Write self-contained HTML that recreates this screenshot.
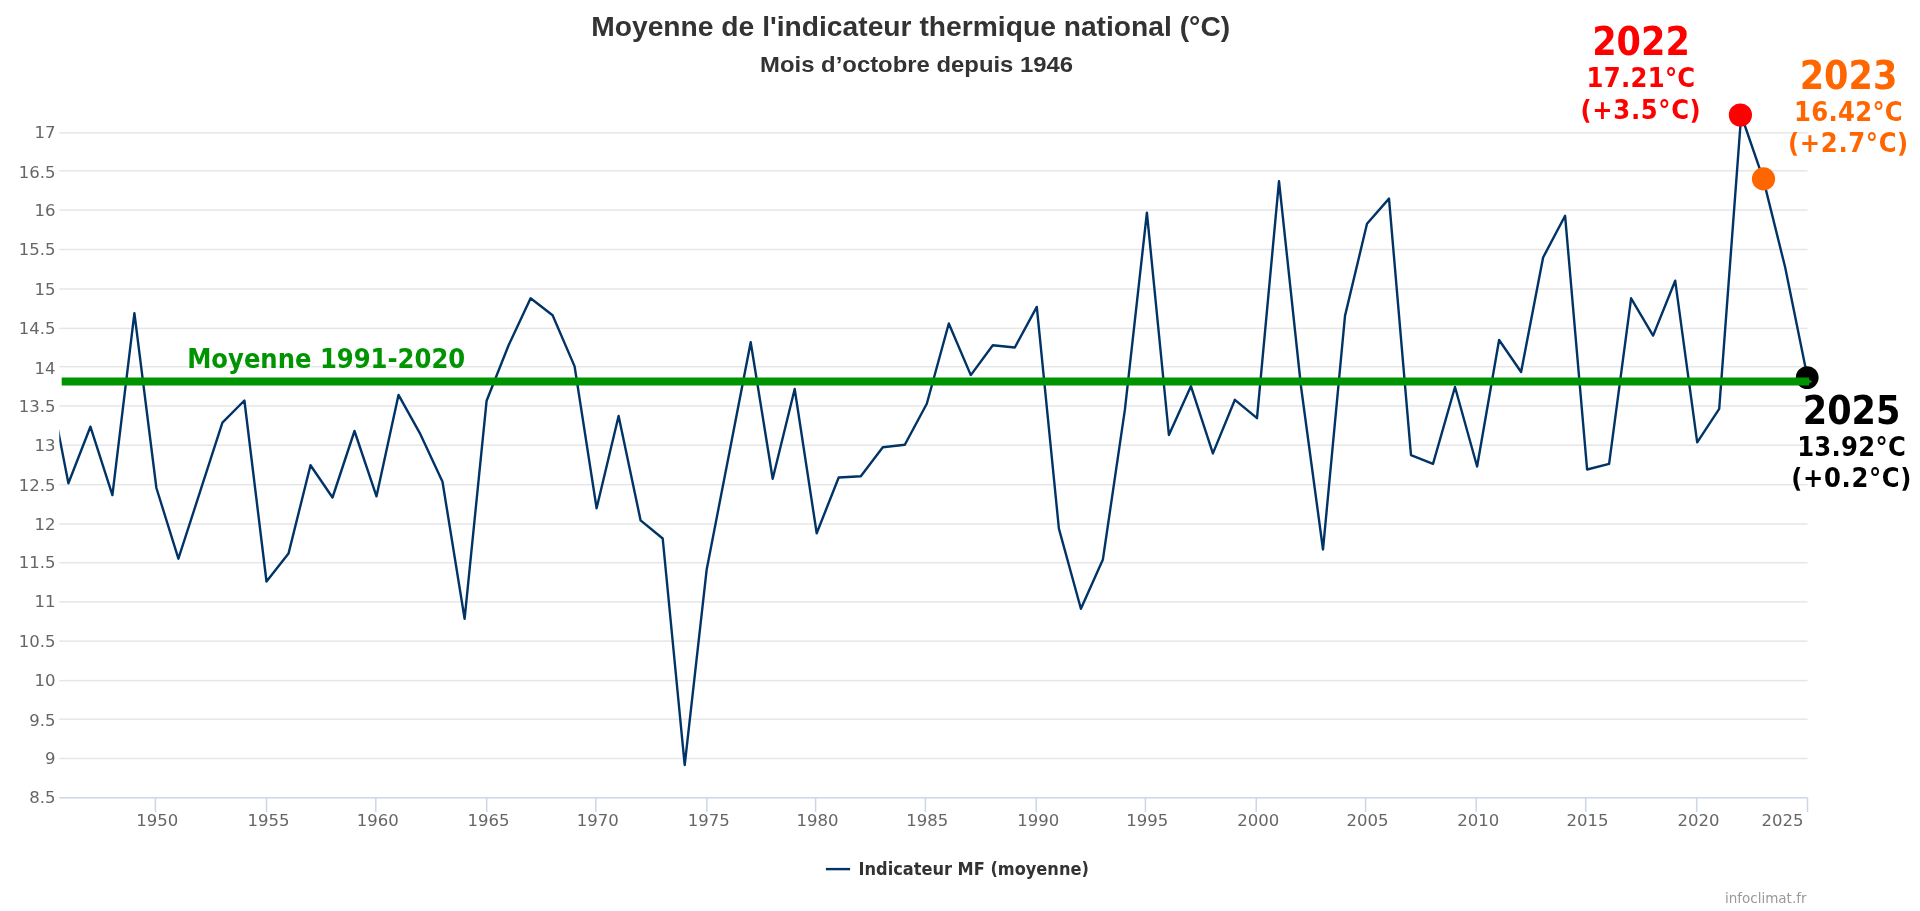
<!DOCTYPE html>
<html><head><meta charset="utf-8"><title>Moyenne de l'indicateur thermique national</title>
<style>
html,body{margin:0;padding:0;background:#fff;width:1920px;height:911px;overflow:hidden}
svg{display:block;will-change:transform}
.ax{font-family:"DejaVu Sans","Liberation Sans",sans-serif;font-size:16.5px;fill:#666}
.ann{font-family:"DejaVu Sans Condensed","DejaVu Sans","Liberation Sans",sans-serif;font-stretch:condensed;font-weight:bold}
.tt{font-family:"Liberation Sans",Arial,sans-serif;font-weight:bold;fill:#333}
</style></head>
<body>
<svg width="1920" height="911" viewBox="0 0 1920 911">
<rect width="1920" height="911" fill="#ffffff"/>
<defs><clipPath id="pc"><rect x="59.3" y="0" width="1760" height="911"/></clipPath></defs>
<g><rect x="59.3" y="797.05" width="1748.2" height="1.5" fill="#ccd6eb"/><rect x="59.3" y="757.75" width="1748.2" height="1.5" fill="#e6e6e6"/><rect x="59.3" y="718.45" width="1748.2" height="1.5" fill="#e6e6e6"/><rect x="59.3" y="679.85" width="1748.2" height="1.5" fill="#e6e6e6"/><rect x="59.3" y="640.35" width="1748.2" height="1.5" fill="#e6e6e6"/><rect x="59.3" y="601.15" width="1748.2" height="1.5" fill="#e6e6e6"/><rect x="59.3" y="561.95" width="1748.2" height="1.5" fill="#e6e6e6"/><rect x="59.3" y="523.25" width="1748.2" height="1.5" fill="#e6e6e6"/><rect x="59.3" y="483.95" width="1748.2" height="1.5" fill="#e6e6e6"/><rect x="59.3" y="444.45" width="1748.2" height="1.5" fill="#e6e6e6"/><rect x="59.3" y="405.15" width="1748.2" height="1.5" fill="#e6e6e6"/><rect x="59.3" y="365.95" width="1748.2" height="1.5" fill="#e6e6e6"/><rect x="59.3" y="327.65" width="1748.2" height="1.5" fill="#e6e6e6"/><rect x="59.3" y="288.25" width="1748.2" height="1.5" fill="#e6e6e6"/><rect x="59.3" y="248.75" width="1748.2" height="1.5" fill="#e6e6e6"/><rect x="59.3" y="209.35" width="1748.2" height="1.5" fill="#e6e6e6"/><rect x="59.3" y="170.05" width="1748.2" height="1.5" fill="#e6e6e6"/><rect x="59.3" y="132.15" width="1748.2" height="1.5" fill="#e6e6e6"/></g>
<g><rect x="154.65" y="797.5" width="1.5" height="14.5" fill="#ccd6eb"/><rect x="265.75" y="797.5" width="1.5" height="14.5" fill="#ccd6eb"/><rect x="375.05" y="797.5" width="1.5" height="14.5" fill="#ccd6eb"/><rect x="485.95" y="797.5" width="1.5" height="14.5" fill="#ccd6eb"/><rect x="595.05" y="797.5" width="1.5" height="14.5" fill="#ccd6eb"/><rect x="706.15" y="797.5" width="1.5" height="14.5" fill="#ccd6eb"/><rect x="814.85" y="797.5" width="1.5" height="14.5" fill="#ccd6eb"/><rect x="924.65" y="797.5" width="1.5" height="14.5" fill="#ccd6eb"/><rect x="1035.50" y="797.5" width="1.5" height="14.5" fill="#ccd6eb"/><rect x="1144.65" y="797.5" width="1.5" height="14.5" fill="#ccd6eb"/><rect x="1255.50" y="797.5" width="1.5" height="14.5" fill="#ccd6eb"/><rect x="1364.85" y="797.5" width="1.5" height="14.5" fill="#ccd6eb"/><rect x="1475.50" y="797.5" width="1.5" height="14.5" fill="#ccd6eb"/><rect x="1584.95" y="797.5" width="1.5" height="14.5" fill="#ccd6eb"/><rect x="1695.95" y="797.5" width="1.5" height="14.5" fill="#ccd6eb"/><rect x="1806.75" y="797.5" width="1.5" height="14.5" fill="#ccd6eb"/></g>
<g class="ax"><text x="55.5" y="803.1" text-anchor="end">8.5</text><text x="55.5" y="763.8" text-anchor="end">9</text><text x="55.5" y="725.5" text-anchor="end">9.5</text><text x="55.5" y="685.9" text-anchor="end">10</text><text x="55.5" y="647.2" text-anchor="end">10.5</text><text x="55.5" y="607.2" text-anchor="end">11</text><text x="55.5" y="568.0" text-anchor="end">11.5</text><text x="55.5" y="530.0" text-anchor="end">12</text><text x="55.5" y="490.5" text-anchor="end">12.5</text><text x="55.5" y="450.5" text-anchor="end">13</text><text x="55.5" y="411.6" text-anchor="end">13.5</text><text x="55.5" y="373.5" text-anchor="end">14</text><text x="55.5" y="333.7" text-anchor="end">14.5</text><text x="55.5" y="294.9" text-anchor="end">15</text><text x="55.5" y="255.1" text-anchor="end">15.5</text><text x="55.5" y="215.7" text-anchor="end">16</text><text x="55.5" y="177.8" text-anchor="end">16.5</text><text x="55.5" y="138.2" text-anchor="end">17</text></g>
<g class="ax"><text x="157.3" y="826" text-anchor="middle">1950</text><text x="268.4" y="826" text-anchor="middle">1955</text><text x="377.7" y="826" text-anchor="middle">1960</text><text x="488.6" y="826" text-anchor="middle">1965</text><text x="597.7" y="826" text-anchor="middle">1970</text><text x="708.8" y="826" text-anchor="middle">1975</text><text x="817.5" y="826" text-anchor="middle">1980</text><text x="927.3" y="826" text-anchor="middle">1985</text><text x="1038.2" y="826" text-anchor="middle">1990</text><text x="1147.3" y="826" text-anchor="middle">1995</text><text x="1258.2" y="826" text-anchor="middle">2000</text><text x="1367.5" y="826" text-anchor="middle">2005</text><text x="1478.2" y="826" text-anchor="middle">2010</text><text x="1587.6" y="826" text-anchor="middle">2015</text><text x="1698.6" y="826" text-anchor="middle">2020</text><text x="1803.6" y="826" text-anchor="end">2025</text></g>
<text class="tt" x="910.7" y="36" text-anchor="middle" font-size="27" textLength="639" lengthAdjust="spacingAndGlyphs">Moyenne de l'indicateur thermique national (°C)</text>
<text class="tt" x="916.6" y="72" text-anchor="middle" font-size="22.5" textLength="313" lengthAdjust="spacingAndGlyphs">Mois d’octobre depuis 1946</text>
<path d="M46.3 369.8 L68.4 483.2 L90.4 426.7 L112.4 495.1 L134.4 313.1 L156.4 488.0 L178.4 558.7 L200.4 490.7 L222.4 422.7 L244.4 400.5 L266.5 581.5 L288.5 553.6 L310.5 465.2 L332.5 497.5 L354.5 431.0 L376.5 496.3 L398.5 394.9 L420.5 434.4 L442.5 481.7 L464.6 618.8 L486.6 400.8 L508.6 345.3 L530.6 298.3 L552.6 315.2 L574.6 366.4 L596.6 508.2 L618.6 416.0 L640.6 520.4 L662.7 538.5 L684.7 765.0 L706.7 569.4 L728.7 455.9 L750.7 342.3 L772.7 478.8 L794.7 389.0 L816.7 533.3 L838.7 477.5 L860.8 476.2 L882.8 447.2 L904.8 444.8 L926.8 403.7 L948.8 323.5 L970.8 375.1 L992.8 345.2 L1014.8 347.5 L1036.8 306.9 L1058.9 528.6 L1080.9 608.8 L1102.9 559.4 L1124.9 409.7 L1146.9 212.7 L1168.9 435.0 L1190.9 386.2 L1212.9 453.4 L1234.9 399.8 L1257.0 418.2 L1279.0 181.1 L1301.0 386.5 L1323.0 549.5 L1345.0 315.9 L1367.0 223.7 L1389.0 198.6 L1411.0 455.1 L1433.0 463.9 L1455.0 387.0 L1477.1 466.5 L1499.1 340.0 L1521.1 372.0 L1543.1 257.5 L1565.1 215.8 L1587.1 469.5 L1609.1 463.8 L1631.1 298.3 L1653.1 335.6 L1675.2 280.7 L1697.2 442.3 L1719.2 408.9 L1741.2 115.0 L1763.2 178.9 L1785.2 267.5 L1807.2 376.0" fill="none" stroke="#003366" stroke-width="2.4" stroke-linejoin="round" stroke-linecap="round" clip-path="url(#pc)"/>
<circle cx="1740.4" cy="115" r="11.6" fill="#ff0000"/>
<circle cx="1763.5" cy="178.9" r="11.6" fill="#ff6600"/>
<circle cx="1807.2" cy="377.6" r="11.4" fill="#000000"/>
<path d="M61.7 377.5 L1809 377.5 L1809 379.5 L1812.3 381.5 L1809 383.5 L1809 385.5 L61.7 385.5 Z" fill="#009400"/>
<text class="ann" x="187.2" y="367.5" font-size="27" fill="#009400">Moyenne 1991-2020</text>
<g class="ann" text-anchor="middle" fill="#ff0000">
<text x="1641" y="55.2" font-size="39">2022</text>
<text x="1641" y="87" font-size="27" letter-spacing="0.3">17.21°C</text>
<text x="1641" y="118.5" font-size="27" letter-spacing="0.65">(+3.5°C)</text>
</g>
<g class="ann" text-anchor="middle" fill="#ff6600">
<text x="1848.5" y="88.9" font-size="39">2023</text>
<text x="1848.5" y="120.7" font-size="27" letter-spacing="0.3">16.42°C</text>
<text x="1848.5" y="152.3" font-size="27" letter-spacing="0.65">(+2.7°C)</text>
</g>
<g class="ann" text-anchor="middle" fill="#000000">
<text x="1851.6" y="423.5" font-size="39">2025</text>
<text x="1851.6" y="455.7" font-size="27" letter-spacing="0.3">13.92°C</text>
<text x="1851.6" y="487" font-size="27" letter-spacing="0.65">(+0.2°C)</text>
</g>
<rect x="825.9" y="867.9" width="24.2" height="2.4" fill="#003366"/>
<text x="858.5" y="875.3" font-family="DejaVu Sans Condensed, DejaVu Sans, sans-serif" font-stretch="condensed" font-weight="bold" font-size="18" fill="#333">Indicateur MF (moyenne)</text>
<text x="1806.5" y="903.2" text-anchor="end" font-family="DejaVu Sans, sans-serif" font-size="13.5" fill="#999">infoclimat.fr</text>
</svg>
</body></html>
